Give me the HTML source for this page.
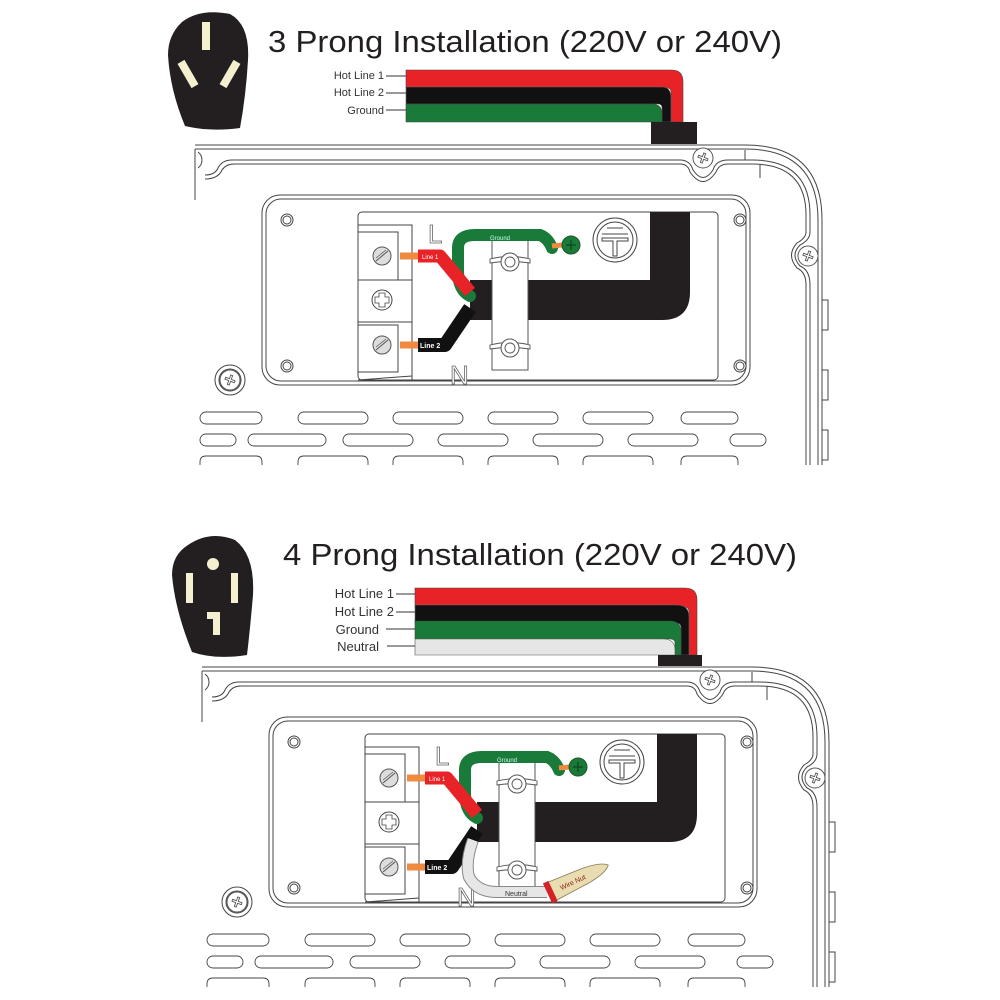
<!DOCTYPE html>
<html><head><meta charset="utf-8"><style>
html,body{margin:0;padding:0;background:#fff;}
svg{display:block;}
text{font-family:"Liberation Sans",sans-serif;}
</style></head><body>
<svg width="1000" height="1000" viewBox="0 0 1000 1000" xmlns="http://www.w3.org/2000/svg">
<defs>
<g id="screwX">
  <circle r="10" fill="#fff" stroke="#555" stroke-width="1"/>
  <path d="M-5,-1 L-1,-1 L-1,-5 L1,-5 L1,-1 L5,-1 L5,1 L1,1 L1,5 L-1,5 L-1,1 L-5,1Z" fill="none" stroke="#555" stroke-width="0.9" transform="rotate(20)"/>
</g>
<g id="slot">
  <circle r="9" fill="#ddd" stroke="#555" stroke-width="1"/>
  <line x1="-6" y1="5" x2="6" y2="-5" stroke="#555" stroke-width="1"/>
  <line x1="-6" y1="2" x2="4" y2="-6" stroke="#555" stroke-width="0.7"/>
</g>
<g id="wing">
  <path d="M-20,-3 Q0,-8 20,-3 L20,1 Q0,-2 -20,1Z" fill="#fff" stroke="#555" stroke-width="0.9"/>
  <circle r="9" fill="#fff" stroke="#555" stroke-width="1"/>
  <circle r="5" fill="#fff" stroke="#555" stroke-width="0.9"/>
</g>
<g id="panel" fill="none" stroke="#444" stroke-width="1">
  <path d="M195,145 H745 Q822,145 822,220 V465"/>
  <path d="M195,149 H745 Q818,149 818,220 V465"/>
  <path d="M195,149 V200"/>
  <path d="M205,175 Q215,175 218,168 Q222,160 232,160 H680 Q690,160 693,170 Q703,185 713,170 Q716,160 728,160 H752 Q810,160 810,215 V232 Q810,240 800,245 Q790,255 800,266 Q810,270 810,285 V465"/>
  <path d="M205,179 Q218,179 222,170 Q226,164 234,164 H680 Q688,164 690,172 Q703,191 716,172 Q719,164 728,164 H752 Q806,164 806,215 V232 Q806,238 797,243 Q786,255 797,268 Q806,272 806,285 V465"/>
  <path d="M760,164 V178 M745,160 V150" />
  <use href="#screwX" x="703" y="158"/>
  <use href="#screwX" x="808" y="256"/>
  <path d="M198,152 A10,10 0 0 1 198,168" />
  <path d="M822,300 H828 V330 H822 M822,370 H828 V400 H822 M822,430 H828 V460 H822"/>
  <rect x="262" y="195" width="488" height="190" rx="18"/>
  <rect x="266" y="199" width="480" height="182" rx="15"/>
  <rect x="358" y="212" width="360" height="168" rx="4" fill="#fff"/>
  <circle cx="287" cy="220" r="4"/><circle cx="287" cy="220" r="6"/>
  <circle cx="740" cy="220" r="4"/><circle cx="740" cy="220" r="6"/>
  <circle cx="287" cy="366" r="4"/><circle cx="287" cy="366" r="6"/>
  <circle cx="740" cy="366" r="4"/><circle cx="740" cy="366" r="6"/>
  <circle cx="230" cy="380" r="15"/><circle cx="230" cy="380" r="11"/>
  <use href="#screwX" x="230" y="380"/>
  <path d="M358,225 H412 V380 M358,232 H398 V280 H358 M358,280 H412 M358,322 H412 M358,325 H398 V372 H358 M358,380 L412,376"/>
  <use href="#slot" x="382" y="256"/>
  <circle cx="382" cy="300" r="10" fill="#fff"/>
  <path d="M379,293 h6 v4 h4 v6 h-4 v4 h-6 v-4 h-4 v-6 h4z" stroke-width="0.8"/>
  <use href="#slot" x="382" y="345"/>
  <text x="428" y="243" font-size="26" fill="#fff" stroke="#666" stroke-width="0.8">L</text>
  <text x="450" y="384" font-size="26" fill="#fff" stroke="#666" stroke-width="0.8">N</text>
  <path d="M470,280 H650 V212 H690 V292 Q690,320 662,320 H470 Z" fill="#231f20" stroke="none"/>
  <rect x="492" y="240" width="36" height="130" fill="#fff" stroke="#555"/>
  <use href="#wing" x="510" y="262"/>
  <use href="#wing" x="510" y="348"/>
  <circle cx="615" cy="240" r="22" fill="#fff"/>
  <circle cx="615" cy="240" r="18"/>
  <path d="M607,228 H623 M602,234 H628 M602,238 H628 V241 H617 V256 H613 V241 H602Z"/>
  <path d="M470,296 Q458,290 458,270 V248 Q458,235 475,235 H540 Q548,238 552,248" stroke="#1a7a3a" stroke-width="12" fill="none" stroke-linecap="round"/>
  <text x="490" y="240" font-size="6" fill="#cfe" stroke="none">Ground</text>
  <path d="M552,246 L562,245" stroke="#f08a40" stroke-width="5"/>
  <circle cx="571" cy="245" r="9" fill="#1a7a3a" stroke="#1a5a2a"/>
  <path d="M566,245 H576 M571,240 V250" stroke="#0a3a1a"/>
  <path d="M400,256 H420" stroke="#f08a40" stroke-width="7"/>
  <path d="M418,256 H440 L470,292" stroke="#e82328" stroke-width="13" fill="none" stroke-linejoin="round"/>
  <text x="422" y="259" font-size="6" fill="#fff" stroke="none">Line 1</text>
  <path d="M400,345 H420" stroke="#f08a40" stroke-width="7"/>
  <path d="M418,345 H445 L470,308" stroke="#111" stroke-width="14" fill="none" stroke-linejoin="round"/>
  <text x="420" y="348" font-size="7" font-weight="bold" fill="#fff" stroke="none">Line 2</text>
  <g stroke-width="0.9">
    <rect x="200" y="412" width="62" height="12" rx="6"/><rect x="298" y="412" width="70" height="12" rx="6"/><rect x="393" y="412" width="70" height="12" rx="6"/><rect x="488" y="412" width="70" height="12" rx="6"/><rect x="583" y="412" width="70" height="12" rx="6"/><rect x="681" y="412" width="57" height="12" rx="6"/>
    <rect x="200" y="434" width="36" height="12" rx="6"/><rect x="248" y="434" width="78" height="12" rx="6"/><rect x="343" y="434" width="70" height="12" rx="6"/><rect x="438" y="434" width="70" height="12" rx="6"/><rect x="533" y="434" width="70" height="12" rx="6"/><rect x="628" y="434" width="70" height="12" rx="6"/><rect x="730" y="434" width="36" height="12" rx="6"/>
    <path d="M200,465 V462 Q200,456 206,456 H256 Q262,456 262,462 V465 M298,465 V462 Q298,456 304,456 H362 Q368,456 368,462 V465 M393,465 V462 Q393,456 399,456 H457 Q463,456 463,462 V465 M488,465 V462 Q488,456 494,456 H552 Q558,456 558,462 V465 M583,465 V462 Q583,456 589,456 H647 Q653,456 653,462 V465 M681,465 V462 Q681,456 687,456 H732 Q738,456 738,462 V465"/>
  </g>
</g>
</defs>

<path d="M182,22 Q200,8 230,14 Q250,25 248,60 Q246,95 240,128 Q210,132 185,126 Q170,90 168,55 Q168,35 182,22Z" fill="#231f20"/>
<rect x="202" y="22" width="8" height="28" fill="#f3efcf"/>
<rect x="184" y="60" width="8" height="28" fill="#f3efcf" transform="rotate(-30 188 74)"/>
<rect x="226" y="60" width="8" height="28" fill="#f3efcf" transform="rotate(30 230 74)"/>
<text x="268" y="52" font-size="31" fill="#231f20" textLength="514" lengthAdjust="spacingAndGlyphs">3 Prong Installation (220V or 240V)</text>

<g font-size="11" fill="#333" text-anchor="end">
<text x="384" y="79">Hot Line 1</text><text x="384" y="96">Hot Line 2</text><text x="384" y="114">Ground</text>
</g>
<path d="M386,76 H406 M386,93 H406 M386,110 H406" stroke="#333"/>
<path d="M406,70 H672 Q683,70 683,82 V122 H671 V92 Q671,88 667,88 H406Z" fill="#e82328" stroke="#444" stroke-width="0.6"/>
<path d="M406,87 H662 Q671,87 671,98 V122 H662 V108 Q662,104 658,104 H406Z" fill="#111" stroke="#666" stroke-width="0.6"/>
<path d="M406,104 H652 Q662,104 662,114 V122 H406Z" fill="#1a7a3a" stroke="#444" stroke-width="0.6"/>
<rect x="651" y="122" width="46" height="22" fill="#231f20"/>

<use href="#panel"/>

<path d="M188,545 Q210,530 235,540 Q255,555 253,595 Q250,630 247,655 Q215,660 192,652 Q175,610 172,575 Q172,555 188,545Z" fill="#231f20"/>
<circle cx="213" cy="564" r="6" fill="#f3efcf"/>
<rect x="186" y="573" width="7" height="30" fill="#f3efcf"/>
<rect x="231" y="573" width="7" height="30" fill="#f3efcf"/>
<path d="M207,612 H220 V635 H213 V619 H207Z" fill="#f3efcf"/>
<text x="283" y="565" font-size="31" fill="#231f20" textLength="514" lengthAdjust="spacingAndGlyphs">4 Prong Installation (220V or 240V)</text>

<g font-size="13" fill="#333" text-anchor="end">
<text x="394" y="598">Hot Line 1</text><text x="394" y="616">Hot Line 2</text><text x="379" y="634">Ground</text><text x="379" y="651">Neutral</text>
</g>
<path d="M396,594 H415 M396,612 H415 M386,629 H415 M387,646 H415" stroke="#333"/>
<path d="M415,588 H685 Q697,588 697,600 V655 H689 V612 Q689,607 684,607 H415Z" fill="#e82328" stroke="#444" stroke-width="0.6"/>
<path d="M415,605 H677 Q689,605 689,617 V655 H681 V628 Q681,623 676,623 H415Z" fill="#111" stroke="#666" stroke-width="0.6"/>
<path d="M415,621 H670 Q681,621 681,632 V655 H675 V643 Q675,639 670,639 H415Z" fill="#1a7a3a" stroke="#444" stroke-width="0.6"/>
<path d="M415,639 H663 Q675,639 675,650 V655 H415Z" fill="#e6e6e6" stroke="#555" stroke-width="0.6"/>
<rect x="658" y="655" width="44" height="11" fill="#231f20"/>

<g transform="translate(7,522)">
  <use href="#panel"/>
  <path d="M466,318 Q458,340 462,355 Q470,370 490,370 H540" stroke="#888" stroke-width="12" fill="none"/>
  <path d="M466,318 Q458,340 462,355 Q470,370 490,370 H540" stroke="#e6e6e6" stroke-width="10" fill="none"/>
  <text x="498" y="374" font-size="7" fill="#333">Neutral</text>
  <g transform="rotate(-25 565 360)">
    <path d="M542,350 L580,352 Q600,354 605,360 Q600,366 580,368 L542,370Z" fill="#e9dcb0" stroke="#8a7a50" stroke-width="0.8"/>
    <rect x="538" y="349" width="6" height="22" fill="#d42027"/>
    <text x="552" y="363" font-size="7" fill="#8a2020">Wire Nut</text>
  </g>
</g>
</svg>
</body></html>
